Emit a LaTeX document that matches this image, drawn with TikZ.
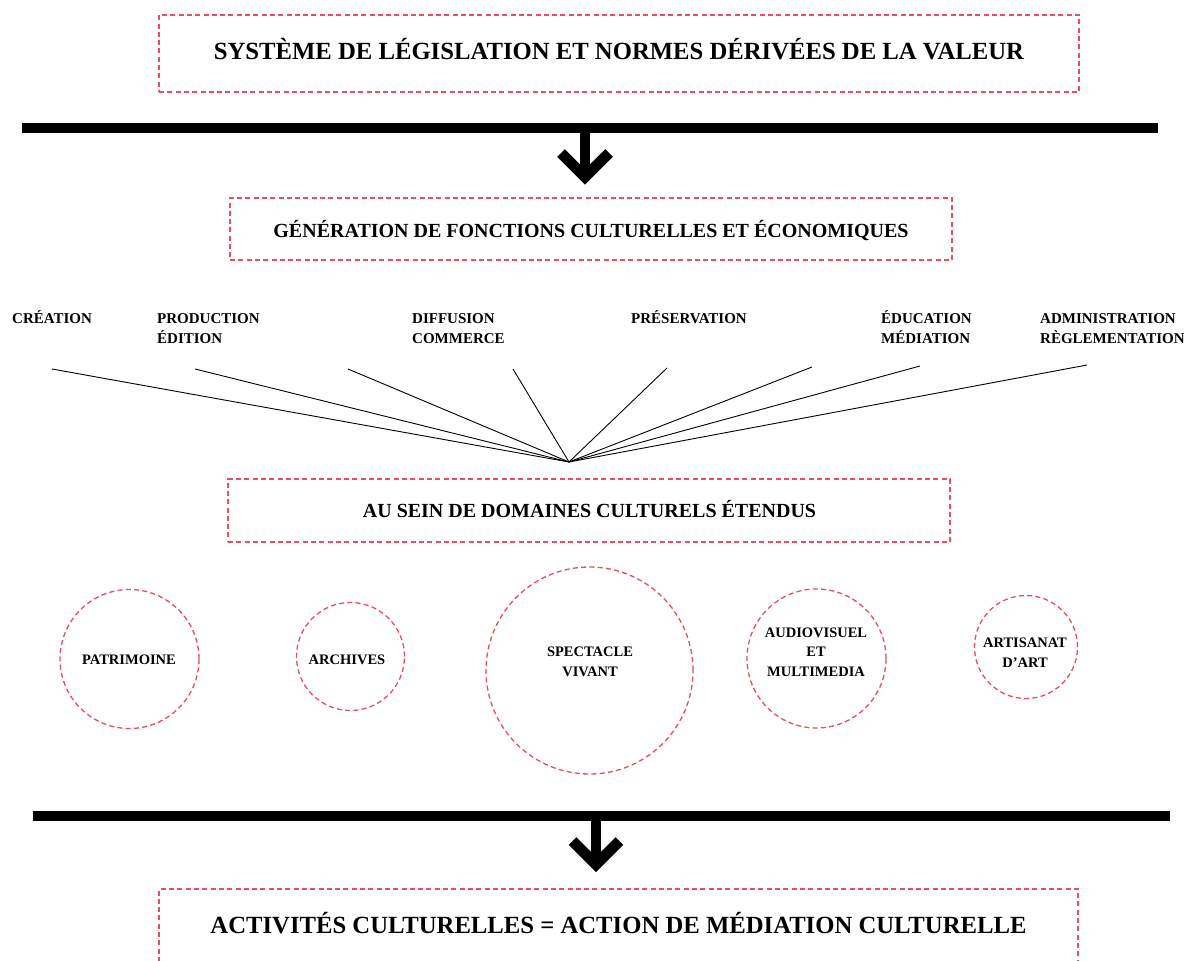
\documentclass[tikz,border=0pt]{standalone}
\usepackage{fontspec}
\setmainfont{Liberation Serif}
\definecolor{dred}{RGB}{232,78,94}
\begin{document}
\begin{tikzpicture}[x=1pt,y=-1pt,
  dbox/.style={draw=dred, line width=1.3pt, dash pattern=on 5pt off 3.3pt, inner sep=0pt},
  circ/.style={circle, draw=dred, line width=1.3pt, dash pattern=on 5pt off 3.3pt, inner sep=0pt},
  bigtxt/.style={font=\fontsize{24.7}{28}\selectfont\bfseries, inner sep=0pt, anchor=base},
  midtxt/.style={font=\fontsize{20}{24}\selectfont\bfseries, inner sep=0pt, anchor=base},
  lbl/.style={font=\fontsize{15}{20}\selectfont\bfseries, inner sep=0pt, align=left, anchor=base west},
  ctxt/.style={font=\fontsize{14.5}{19.5}\selectfont\bfseries, inner sep=0pt, align=center, anchor=base},
  bar/.style={line width=9.3pt},
  stem/.style={line width=10pt},
  chev/.style={line width=10.7pt, line join=miter},
  fan/.style={line width=0.9pt}]
\clip (0,0) rectangle (1184,961);
\fill[white] (0,0) rectangle (1184,961);

% top box
\node[dbox, minimum width=920pt, minimum height=77pt] (topbox) at (619,53.5) {};
\node[bigtxt] (toptxt) at (619,59) {SYSTÈME DE LÉGISLATION ET NORMES DÉRIVÉES DE LA VALEUR};

% bar 1 and arrow
\coordinate (b1l) at (22,128);
\coordinate (b1r) at (1158,128);
\draw[bar] (b1l) -- (b1r);
\coordinate (a1s) at (585,128);
\coordinate (a1t) at (585,177);
\coordinate (a1l) at (561,153);
\coordinate (a1r) at (609,153);
\draw[stem] (a1s) -- (a1t);
\draw[chev] (a1l) -- (a1t) -- (a1r);

% second box
\node[dbox, minimum width=722pt, minimum height=62pt] (genbox) at (591,229) {};
\node[midtxt] (gentxt) at (591,237) {GÉNÉRATION DE FONCTIONS CULTURELLES ET ÉCONOMIQUES};

% labels (base anchor = last line)
\node[lbl] (l1) at (12,323) {CRÉATION};
\node[lbl] (l2) at (157,343) {PRODUCTION\\ÉDITION};
\node[lbl] (l3) at (412,343) {DIFFUSION\\COMMERCE};
\node[lbl] (l4) at (631,323) {PRÉSERVATION};
\node[lbl] (l5) at (881,343) {ÉDUCATION\\MÉDIATION};
\node[lbl] (l6) at (1040,343) {ADMINISTRATION\\RÈGLEMENTATION};

% fan
\coordinate (hub) at (569,462);
\coordinate (f1) at (52,369);
\coordinate (f2) at (195,369);
\coordinate (f3) at (348,369);
\coordinate (f4) at (513,369);
\coordinate (f5) at (667,368);
\coordinate (f6) at (812,367);
\coordinate (f7) at (920,366);
\coordinate (f8) at (1087,365);
\foreach \f in {f1,f2,f3,f4,f5,f6,f7,f8} \draw[fan] (\f) -- (hub);

% third box
\node[dbox, minimum width=722pt, minimum height=63pt] (dombox) at (589,510.5) {};
\node[midtxt] (domtxt) at (589.5,517) {AU SEIN DE DOMAINES CULTURELS ÉTENDUS};

% circles
\node[circ, minimum size=139pt] (c1) at (129.5,659) {};
\node[ctxt] (t1) at (129,664) {PATRIMOINE};
\node[circ, minimum size=108pt] (c2) at (350.5,656.5) {};
\node[ctxt] (t2) at (347,664) {ARCHIVES};
\node[circ, minimum size=207pt] (c3) at (589.5,670.5) {};
\node[ctxt] (t3) at (590,676) {SPECTACLE\\VIVANT};
\node[circ, minimum size=139pt] (c4) at (816.5,658.5) {};
\node[ctxt] (t4) at (816,676) {AUDIOVISUEL\\ET\\MULTIMEDIA};
\node[circ, minimum size=103pt] (c5) at (1026,647) {};
\node[ctxt] (t5) at (1025,667) {ARTISANAT\\D’ART};

% bar 2 and arrow
\coordinate (b2l) at (33,816);
\coordinate (b2r) at (1170,816);
\draw[bar] (b2l) -- (b2r);
\coordinate (a2s) at (596,816);
\coordinate (a2t) at (596,864.5);
\coordinate (a2l) at (572.5,841);
\coordinate (a2r) at (619.5,841);
\draw[stem] (a2s) -- (a2t);
\draw[chev] (a2l) -- (a2t) -- (a2r);

% bottom box
\node[dbox, minimum width=919pt, minimum height=111pt] (actbox) at (618.5,944.5) {};
\node[bigtxt] (acttxt) at (618.5,933) {ACTIVITÉS CULTURELLES = ACTION DE MÉDIATION CULTURELLE};
\end{tikzpicture}
\end{document}
